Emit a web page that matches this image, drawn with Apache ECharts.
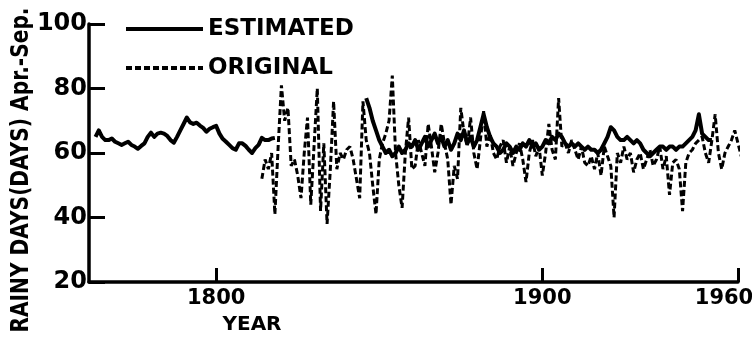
<!DOCTYPE html>
<html>
<head>
<meta charset="utf-8">
<script src="https://cdn.jsdelivr.net/npm/echarts@6/dist/echarts.min.js"></script>
<style>
html,body{margin:0;padding:0;background:#fff;}
#chart{width:752px;height:338px;}
</style>
</head>
<body>
<div id="chart"></div>
<script>
// ---- data ----
const xTickLabels = [1800, 1900, 1960];
const yTicks = [20, 40, 60, 80, 100];

// ESTIMATED, first segment, yearly from 1763
const estimatedEarlyStart = 1763;
const estimatedEarly = [65,67,65,64,64,64.5,63.5,63,62.5,63,63.5,62.5,62,61.3,62.2,63,65,66.3,65,66,
  66.3,66,65.3,64,63.2,65,67,69,71,69.5,69,69.4,68.5,67.8,66.6,67.5,68,68.4,66,64.4,
  63.5,62.5,61.5,61,63,63,62.2,61,60,61.5,62.5,64.7,64,64,64.5,64.7];

// ESTIMATED, second segment, yearly from 1846
const estimatedLateStart = 1846;
const estimatedLate = [77,74,70,67,64,62,60,61,59,60,62,60,61,63,62,64,61,63,65,62,
  64,66,63,65,62,64,61,63,66,64,67,63,65,62,64,68,72,68,65,63,
  62,60,61,63,62,60,62,61,63,62,64,62,63,61,62,64,63,65,64,66,
  65,63,62,63,62,63,62,61,62,61,61,60,61,63,65,68,67,65,64,64,
  65,64,63,64,63,61,60,59,60,61,62,62,61,62,62,61,62,62,63,64,
  65,67,72,66,65,64,64];

// ORIGINAL, yearly from 1814
const originalStart = 1814;
const original = [52,58,55,60,41,62,81,70,74,56,58,53,46,60,71,44,62,80,42,63,
  38,55,76,55,60,58,61,62,58,52,46,76,64,60,50,41,58,63,66,70,
  84,60,50,43,60,71,55,56,64,60,56,69,62,54,60,69,63,58,44,56,
  52,74,66,62,71,60,55,64,73,62,66,60,58,62,64,57,62,56,60,63,
  58,51,60,64,59,62,53,60,69,61,58,77,62,63,60,64,61,58,62,57,
  56,59,55,60,53,62,59,56,40,60,57,62,58,60,54,58,60,55,58,61,
  56,58,62,55,59,47,57,58,55,42,57,60,61,63,64,65,60,57,64,72,
  60,55,60,62,64,67,63,59,55,51];

function toPairs(start, arr) { return arr.map((v, i) => [start + i, v]); }

const FONT = 'DejaVu Sans';
const chart = echarts.init(document.getElementById('chart'), null, {renderer: 'canvas'});

// fit the y-axis title to its length in the reference
const yTitle = 'RAINY DAYS(DAYS) Apr.-Sep.';
const cnv = document.createElement('canvas').getContext('2d');
cnv.font = 'bold 24px "' + FONT + '"';
const yTitleW = cnv.measureText(yTitle).width;
const yTitleScale = 325 / yTitleW;
const lastTick = xTickLabels[xTickLabels.length - 1];

chart.setOption({
  backgroundColor: '#ffffff',
  animation: false,
  grid: {left: 89, right: 14, top: 24, bottom: 56, containLabel: false, outerBoundsMode: 'none'},
  legend: {
    orient: 'vertical',
    left: 124,
    top: 17,
    padding: 0,
    itemWidth: 77,
    itemHeight: 14,
    itemGap: 15,
    data: ['ESTIMATED', 'ORIGINAL'],
    itemStyle: {opacity: 0},
    lineStyle: {width: 4},
    textStyle: {color: '#000', fontFamily: FONT, fontWeight: 'bold', fontSize: 23, lineHeight: 24}
  },
  xAxis: {
    type: 'value',
    min: 1761,
    max: 1960,
    axisLine: {show: true, lineStyle: {color: '#000', width: 3.5}},
    axisTick: {show: true, inside: true, length: 14, customValues: xTickLabels, lineStyle: {color: '#000', width: 3}},
    axisLabel: {customValues: xTickLabels, color: '#000', fontFamily: FONT, fontWeight: 'bold', fontSize: 21, margin: 6,
      formatter: v => (v === lastTick ? '{last|' + v + '}' : String(v)),
      rich: {last: {color: '#000', fontFamily: FONT, fontWeight: 'bold', fontSize: 21, padding: [0, 28, 0, 0]}}},
    splitLine: {show: false}
  },
  yAxis: {
    type: 'value',
    min: 20,
    max: 100,
    interval: 20,
    axisLine: {show: true, lineStyle: {color: '#000', width: 3.5}},
    axisTick: {show: true, inside: true, length: 16, lineStyle: {color: '#000', width: 3}},
    axisLabel: {color: '#000', fontFamily: FONT, fontWeight: 'bold', fontSize: 24, margin: 2},
    splitLine: {show: false}
  },
  graphic: [
    {type: 'text', x: 22, y: 170, rotation: Math.PI / 2, scaleX: yTitleScale, scaleY: 1,
      style: {text: yTitle, fill: '#000', font: 'bold 24px "' + FONT + '"', align: 'center', verticalAlign: 'middle'}},
    {type: 'text', x: 252, y: 325,
      style: {text: 'YEAR', fill: '#000', font: 'bold 20px "' + FONT + '"', align: 'center', verticalAlign: 'middle'}}
  ],
  series: [
    {name: 'ORIGINAL', type: 'line', data: toPairs(originalStart, original), symbol: 'none', clip: false,
      lineStyle: {color: '#000', width: 3, type: [6, 3]}, itemStyle: {color: '#000'}, z: 2},
    {name: 'ESTIMATED', type: 'line', data: toPairs(estimatedEarlyStart, estimatedEarly), symbol: 'none', clip: false,
      lineStyle: {color: '#000', width: 4, join: 'round'}, itemStyle: {color: '#000'}, z: 3},
    {name: 'ESTIMATED', type: 'line', data: toPairs(estimatedLateStart, estimatedLate), symbol: 'none', clip: false,
      lineStyle: {color: '#000', width: 4, join: 'round'}, itemStyle: {color: '#000'}, z: 3}
  ]
});
</script>
</body>
</html>
